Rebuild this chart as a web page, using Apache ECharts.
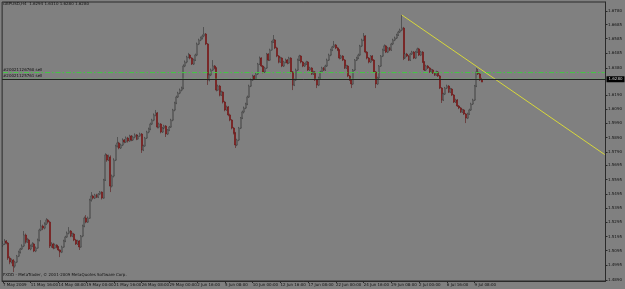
<!DOCTYPE html>
<html><head><meta charset="utf-8">
<script src="https://cdn.jsdelivr.net/npm/echarts@6/dist/echarts.min.js"></script>
<style>html,body{margin:0;padding:0;background:#808080}#c{width:625px;height:289px}</style>
</head><body><div id="c"></div>
<script>
// ---- chart values ----
const symbolInfo = 'GBPUSD,H4  1.6294 1.6310 1.6280 1.6280';
const copyright = 'FXDD - MetaTrader, \u00a9 2001-2009 MetaQuotes Software Corp.';
const timeLabels = ['7 May 2009','11 May 16:00','14 May 08:00','19 May 00:00','21 May 16:00','26 May 08:00',
  '29 May 00:00','2 Jun 16:00','5 Jun 08:00','10 Jun 00:00','12 Jun 16:00','17 Jun 08:00','22 Jun 00:00',
  '24 Jun 16:00','29 Jun 08:00','2 Jul 00:00','6 Jul 16:00','9 Jul 08:00'];
const barsPerLabel = 16;
const totalSlots = 348;
const priceLabels = ['1.6780','1.6685','1.6585','1.6485','1.6380','1.6190','1.6090','1.5990','1.5890',
  '1.5790','1.5695','1.5595','1.5495','1.5395','1.5295','1.5195','1.5095','1.4995','1.4890'];
const priceMin = 1.4882, priceMax = 1.6843;
const bidPrice = 1.6280;
const orderNames = ['#20021126760 sell', '#20021125761 sell'];
const orderPrices = [1.6347, 1.6300];
const trendLine = [[230, 1.6752], [347, 1.5771]];
// H4 bars: [open, close, low, high] in pips (price * 10000)
const ohlcPips = [
[15135,15142,15121,15163],[15142,15163,15135,15177],[15163,15149,15140,15170],[15149,15043,15030,15156],
[15043,15015,15000,15055],[15015,15029,15005,15040],[15029,14987,14945,15035],[14987,15015,14975,15025],
[15015,15057,15008,15065],[15057,15085,15050,15095],[15085,15107,15075,15115],[15107,15128,15100,15140],
[15128,15205,15120,15233],[15205,15156,15145,15215],[15156,15170,15150,15185],[15170,15107,15100,15178],
[15107,15128,15098,15138],[15128,15142,15120,15155],[15142,15093,15085,15150],[15093,15114,15085,15125],
[15114,15170,15108,15180],[15170,15240,15160,15250],[15240,15268,15232,15310],[15268,15254,15240,15278],
[15254,15282,15245,15295],[15282,15310,15275,15324],[15310,15296,15285,15318],[15296,15128,15114,15305],
[15128,15142,15115,15155],[15142,15114,15105,15150],[15114,15135,15108,15145],[15135,15121,15112,15140],
[15121,15100,15092,15128],[15100,15085,15050,15105],[15085,15121,15078,15130],[15121,15163,15115,15172],
[15163,15191,15155,15200],[15191,15219,15185,15230],[15219,15233,15210,15261],[15233,15198,15190,15240],
[15198,15212,15190,15222],[15212,15170,15162,15220],[15170,15142,15135,15178],[15142,15163,15135,15172],
[15163,15121,15100,15170],[15121,15198,15115,15205],[15198,15268,15190,15278],[15268,15324,15260,15335],
[15324,15296,15288,15345],[15296,15324,15290,15335],[15324,15451,15318,15460],[15451,15479,15440,15507],
[15479,15465,15455,15488],[15465,15486,15458,15495],[15486,15472,15465,15495],[15472,15493,15465,15500],
[15493,15507,15485,15515],[15507,15465,15455,15512],[15465,15592,15460,15600],[15592,15767,15585,15780],
[15767,15732,15720,15775],[15732,15753,15725,15770],[15753,15549,15507,15765],[15549,15620,15540,15630],
[15620,15732,15610,15745],[15732,15831,15725,15840],[15831,15852,15820,15894],[15852,15817,15808,15860],
[15817,15838,15810,15848],[15838,15873,15830,15885],[15873,15859,15850,15880],[15859,15887,15852,15898],
[15887,15866,15855,15895],[15866,15901,15860,15910],[15901,15873,15865,15908],[15873,15894,15866,15903],
[15894,15908,15885,15920],[15908,15880,15872,15915],[15880,15901,15875,15910],[15901,15915,15895,15925],
[15915,15803,15782,15922],[15803,15831,15795,15840],[15831,15887,15825,15895],[15887,15929,15880,15938],
[15929,15950,15920,15960],[15950,15985,15942,15995],[15985,16013,15978,16022],[16013,16049,16005,16060],
[16049,16063,16040,16084],[16063,15964,15955,16070],[15964,15985,15955,15995],[15985,15929,15920,15992],
[15929,15957,15922,15965],[15957,15971,15950,15980],[15971,15915,15894,15978],[15915,15943,15908,15950],
[15943,15964,15935,15972],[15964,16013,15958,16022],[16013,16084,16005,16092],[16084,16133,16075,16142],
[16133,16175,16125,16185],[16175,16203,16168,16212],[16203,16224,16195,16235],[16224,16238,16215,16248],
[16238,16393,16230,16405],[16393,16421,16385,16432],[16421,16456,16412,16465],[16456,16470,16448,16485],
[16470,16449,16440,16478],[16449,16407,16400,16455],[16407,16435,16400,16445],[16435,16470,16428,16480],
[16470,16548,16462,16558],[16548,16576,16540,16585],[16576,16590,16568,16600],[16590,16604,16580,16615],
[16604,16618,16595,16667],[16618,16548,16540,16625],[16548,16295,16260,16555],[16295,16330,16285,16340],
[16330,16365,16322,16375],[16365,16393,16358,16435],[16393,16379,16370,16400],[16379,16224,16215,16385],
[16224,16252,16218,16262],[16252,16189,16180,16260],[16189,16210,16182,16220],[16210,16140,16130,16215],
[16140,16084,16075,16148],[16084,16105,16078,16115],[16105,16049,16040,16112],[16049,16013,16005,16058],
[16013,15957,15948,16020],[15957,15922,15912,15965],[15922,15838,15817,15930],[15838,15873,15830,15882],
[15873,15957,15865,15965],[15957,16027,15950,16035],[16027,16070,16020,16080],[16070,16098,16060,16108],
[16098,16126,16090,16135],[16126,16175,16118,16185],[16175,16252,16168,16262],[16252,16295,16245,16305],
[16295,16323,16288,16332],[16323,16302,16295,16330],[16302,16337,16295,16345],[16337,16407,16330,16415],
[16407,16449,16400,16460],[16449,16393,16385,16455],[16393,16351,16342,16400],[16351,16379,16344,16388],
[16379,16477,16372,16485],[16477,16435,16428,16483],[16435,16506,16428,16515],[16506,16562,16500,16570],
[16562,16576,16555,16611],[16576,16520,16512,16582],[16520,16463,16455,16528],[16463,16421,16412,16470],
[16421,16449,16415,16458],[16449,16393,16385,16455],[16393,16421,16386,16430],[16421,16435,16412,16445],
[16435,16414,16405,16442],[16414,16449,16408,16458],[16449,16351,16342,16455],[16351,16259,16224,16358],
[16259,16295,16252,16305],[16295,16365,16288,16375],[16365,16435,16358,16445],[16435,16463,16428,16472],
[16463,16421,16412,16470],[16421,16393,16385,16428],[16393,16407,16386,16415],[16407,16421,16400,16430],
[16421,16365,16358,16428],[16365,16379,16358,16388],[16379,16337,16330,16385],[16337,16351,16330,16360],
[16351,16295,16288,16358],[16295,16259,16238,16302],[16259,16309,16252,16318],[16309,16351,16302,16360],
[16351,16379,16344,16388],[16379,16365,16358,16386],[16365,16393,16358,16402],[16393,16435,16386,16445],
[16435,16470,16428,16480],[16470,16506,16462,16515],[16506,16527,16498,16535],[16527,16541,16520,16569],
[16541,16520,16512,16548],[16520,16506,16498,16528],[16506,16449,16440,16512],[16449,16463,16442,16472],
[16463,16435,16428,16470],[16435,16379,16372,16442],[16379,16393,16372,16402],[16393,16323,16315,16400],
[16323,16295,16288,16330],[16295,16267,16238,16302],[16267,16365,16260,16372],[16365,16435,16358,16442],
[16435,16449,16428,16458],[16449,16470,16442,16480],[16470,16534,16462,16542],[16534,16576,16526,16585],
[16576,16604,16568,16625],[16604,16491,16483,16610],[16491,16449,16440,16498],[16449,16421,16412,16456],
[16421,16463,16414,16470],[16463,16435,16428,16470],[16435,16351,16344,16442],[16351,16267,16238,16358],
[16267,16309,16260,16318],[16309,16393,16302,16400],[16393,16463,16386,16470],[16463,16506,16456,16515],
[16506,16534,16498,16545],[16534,16491,16484,16541],[16491,16520,16484,16528],[16520,16506,16498,16527],
[16506,16548,16499,16556],[16548,16576,16540,16585],[16576,16590,16568,16600],[16590,16611,16583,16620],
[16611,16632,16604,16641],[16632,16646,16625,16656],[16646,16660,16638,16752],[16660,16449,16435,16668],
[16449,16477,16442,16486],[16477,16463,16456,16485],[16463,16435,16428,16470],[16435,16477,16428,16486],
[16477,16491,16470,16500],[16491,16449,16442,16498],[16449,16491,16442,16500],[16491,16513,16484,16522],
[16513,16470,16463,16520],[16470,16491,16463,16500],[16491,16421,16414,16498],[16421,16365,16358,16428],
[16365,16393,16358,16402],[16393,16379,16372,16400],[16379,16351,16344,16386],[16351,16365,16344,16374],
[16365,16344,16337,16372],[16344,16330,16323,16351],[16330,16351,16323,16360],[16351,16323,16316,16358],
[16323,16238,16231,16330],[16238,16154,16133,16245],[16154,16196,16147,16205],[16196,16238,16189,16246],
[16238,16252,16231,16262],[16252,16210,16203,16259],[16210,16231,16203,16240],[16231,16189,16182,16238],
[16189,16140,16133,16196],[16140,16154,16133,16163],[16154,16112,16105,16161],[16112,16098,16090,16119],
[16098,16070,16063,16105],[16070,16084,16063,16092],[16084,16056,16049,16091],[16056,16027,15992,16063],
[16027,16056,16020,16065],[16056,16084,16049,16093],[16084,16126,16077,16135],[16126,16154,16119,16163],
[16154,16252,16147,16260],[16252,16351,16245,16379],[16351,16337,16330,16372],[16337,16295,16288,16344],
[16294,16280,16280,16310]
];

// ---- build ----
const ohlc = ohlcPips.map(r => r.map(v => v / 10000));
const categories = Array.from({length: totalSlots}, (_, i) => String(i));
const tickValues = priceLabels.map(Number);
const FONT = 'DejaVu Sans';
const showTimeTick = (i) => i % barsPerLabel === 0 && i / barsPerLabel < timeLabels.length;

const orderSeries = orderPrices.map((p, k) => ({
  type: 'line', name: orderNames[k], data: [[0, p], [totalSlots - 1, p]], symbol: 'none', silent: true, z: 4,
  lineStyle: {color: '#44c844', width: 1, type: [5, 2, 1.5, 2]}
}));

const chart = echarts.init(document.getElementById('c'), null, {renderer: 'canvas'});
const baseGraphic = [
  {type: 'text', left: 3, top: 2, style: {text: symbolInfo, fontSize: 4, fontFamily: FONT, fill: '#111'}},
  {type: 'text', left: 3, top: 273, style: {text: copyright, fontSize: 4, fontFamily: FONT, fill: '#111'}}
];
chart.setOption({
  animation: false,
  backgroundColor: '#808080',
  grid: {left: 0.2, right: 17.5, top: 2, bottom: 8, show: true, borderColor: '#2a2a2a', borderWidth: 1, containLabel: false},
  xAxis: {
    type: 'category', data: categories, boundaryGap: true,
    axisLine: {show: true, lineStyle: {color: '#2a2a2a', width: 1}},
    axisTick: {show: true, alignWithLabel: true, length: 2, interval: showTimeTick, lineStyle: {color: '#2a2a2a'}},
    axisLabel: {show: true, fontSize: 4, fontFamily: FONT, color: '#111', margin: 2, align: 'left',
      interval: showTimeTick,
      formatter: (v) => timeLabels[Math.round(Number(v) / barsPerLabel)] || ''},
    splitLine: {show: false}
  },
  yAxis: {
    type: 'value', position: 'right', min: priceMin, max: priceMax, scale: true,
    axisLine: {show: true, lineStyle: {color: '#2a2a2a', width: 1}},
    axisTick: {show: true, length: 2, customValues: tickValues, lineStyle: {color: '#2a2a2a'}},
    axisLabel: {show: true, fontSize: 4, fontFamily: FONT, color: '#111', margin: 2.5,
      customValues: tickValues, formatter: (v) => Number(v).toFixed(4)},
    splitLine: {show: false}
  },
  series: [
    {
      type: 'candlestick', data: ohlc, barWidth: 1.5, z: 2,
      itemStyle: {color: '#bdbdbd', color0: '#cc0000', borderColor: '#363636', borderColor0: '#5a1818', borderWidth: 0.6},
      markLine: {
        silent: true, symbol: 'none', animation: false,
        data: [
          {yAxis: bidPrice, name: 'bid',
            lineStyle: {color: '#222', type: 'solid', width: 1},
            label: {show: true, position: 'end', distance: 1, formatter: bidPrice.toFixed(4), fontSize: 4, fontFamily: FONT,
              color: '#d0d0d0', backgroundColor: '#000', padding: [1, 2]}}
        ]
      }
    },
    ...orderSeries,
    {
      type: 'line', data: trendLine, symbol: 'none', silent: true,
      lineStyle: {color: '#d8d83a', width: 1}, z: 3
    }
  ],
  graphic: baseGraphic
});
// order labels placed just above their lines
const orderLabels = orderPrices.map((p, k) => {
  const pt = chart.convertToPixel({xAxisIndex: 0, yAxisIndex: 0}, [0, p]);
  return {type: 'text', left: 3, top: pt[1] - 5, style: {text: orderNames[k], fontSize: 4, fontFamily: FONT, fill: '#111'}};
});
chart.setOption({graphic: [...baseGraphic, ...orderLabels]});
</script></body></html>
